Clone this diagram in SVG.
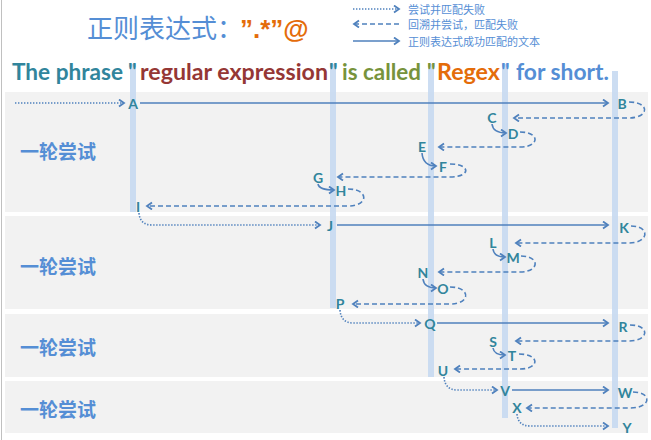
<svg xmlns="http://www.w3.org/2000/svg" width="651" height="440" viewBox="0 0 651 440">
<defs>
<style>
.panel{fill:#f2f2f2}
.bar{fill:#c6d9f1;opacity:0.9}
.c{fill:none;stroke:#4f81bd;stroke-width:1.6}
.dot{stroke-dasharray:1.4 1.6}
.dash{stroke-dasharray:5 3}
.lbl{font-family:Lato,"Liberation Sans",sans-serif;font-weight:bold;font-size:14px;fill:#31859c;text-anchor:middle;dominant-baseline:central}
.round{font-family:"Noto Sans CJK SC",sans-serif;font-weight:bold;font-size:19px;fill:#558ed5}
.leg{font-family:"Noto Sans CJK SC",sans-serif;font-size:11px;fill:#558ed5;dominant-baseline:central}
.sent{font-family:Lato,"Liberation Sans",sans-serif;font-weight:bold;font-size:22px}
</style>
<marker id="ah" markerWidth="10" markerHeight="10" refX="6" refY="4" orient="auto" markerUnits="userSpaceOnUse">
<path d="M1,0.5 L6,4 L1,7.5" fill="none" stroke="#4f81bd" stroke-width="1.8" stroke-dasharray="none"/>
</marker>
</defs>
<rect width="651" height="440" fill="#ffffff"/>
<line x1="1.5" y1="0" x2="1.5" y2="440" stroke="#c0c0c0" stroke-width="1"/>

<g id="title">
<text x="87" y="38" font-family="'Noto Sans CJK SC',sans-serif" font-size="26" fill="#558ed5">正则表达式：</text>
<text x="240" y="38" font-family="'Liberation Sans',sans-serif" font-weight="bold" font-size="26" fill="#e46c0a">”.*”@</text>
</g>

<g id="legend">
<line class="c dot" x1="353" y1="9" x2="399" y2="9" marker-end="url(#ah)"/>
<text class="leg" x="408" y="9">尝试并匹配失败</text>
<line class="c dash" x1="399" y1="24" x2="354" y2="24" marker-end="url(#ah)"/>
<text class="leg" x="408" y="24">回溯并尝试，匹配失败</text>
<line class="c" x1="353" y1="41" x2="399" y2="41" marker-end="url(#ah)"/>
<text class="leg" x="408" y="41">正则表达式成功匹配的文本</text>
</g>

<g id="panels">
<rect class="panel" x="5" y="92" width="643" height="120"/>
<rect class="panel" x="5" y="216" width="643" height="93"/>
<rect class="panel" x="5" y="314" width="643" height="63"/>
<rect class="panel" x="5" y="381" width="643" height="52"/>
<text class="round" x="20" y="159">一轮尝试</text>
<text class="round" x="20" y="274">一轮尝试</text>
<text class="round" x="20" y="355">一轮尝试</text>
<text class="round" x="20" y="417">一轮尝试</text>
</g>

<g id="bars">
<rect class="bar" x="130" y="64" width="6" height="148"/>
<rect class="bar" x="330" y="64" width="6" height="244"/>
<rect class="bar" x="428" y="64" width="6" height="313"/>
<rect class="bar" x="502" y="64" width="6" height="354"/>
<rect class="bar" x="612" y="71" width="6" height="357"/>
</g>

<g id="sentence" class="sent">
<text x="12" y="80" fill="#31859c" textLength="111" lengthAdjust="spacingAndGlyphs">The phrase</text>
<text x="128" y="80" fill="#31859c">"</text>
<text x="140" y="80" fill="#953735" textLength="188" lengthAdjust="spacingAndGlyphs">regular expression</text>
<text x="329" y="80" fill="#31859c">"</text>
<text x="342" y="80" fill="#77933c" textLength="79" lengthAdjust="spacingAndGlyphs">is called</text>
<text x="427" y="80" fill="#77933c">"</text>
<text x="437" y="80" fill="#e46c0a" textLength="63" lengthAdjust="spacingAndGlyphs">Regex</text>
<text x="501" y="80" fill="#558ed5">"</text>
<text x="516" y="80" fill="#558ed5" textLength="93" lengthAdjust="spacingAndGlyphs">for short.</text>
</g>

<g id="connectors">
<!-- panel 1 -->
<line class="c dot" x1="15" y1="103" x2="124" y2="103" marker-end="url(#ah)"/>
<line class="c" x1="140" y1="103" x2="608" y2="103" marker-end="url(#ah)"/>
<path class="c dash" d="M629,102 C650,102 650,118 628,118 L514,118" marker-end="url(#ah)"/>
<path class="c" d="M492,124 Q493,133 506,133" marker-end="url(#ah)"/>
<path class="c dash" d="M520,132 C540,132 540,147 520,147 L439,147" marker-end="url(#ah)"/>
<path class="c" d="M422,153 Q423,166 436,166" marker-end="url(#ah)"/>
<path class="c dash" d="M450,164 C471,164 471,177 450,177 L338,177" marker-end="url(#ah)"/>
<path class="c" d="M318,184 Q319,190 334,190" marker-end="url(#ah)"/>
<path class="c dash" d="M348,189 C369,189 369,206 348,206 L147,206" marker-end="url(#ah)"/>
<!-- panel 2 -->
<path class="c dot" d="M139,213 Q140,225 152,225 L320,225" marker-end="url(#ah)"/>
<line class="c" x1="337" y1="225" x2="608" y2="225" marker-end="url(#ah)"/>
<path class="c dash" d="M631,226 C650,226 650,243 628,243 L516,243" marker-end="url(#ah)"/>
<path class="c" d="M493,249 Q494,257 505,257" marker-end="url(#ah)"/>
<path class="c dash" d="M521,256 C540,256 540,272 520,272 L439,272" marker-end="url(#ah)"/>
<path class="c" d="M423,279 Q424,288 436,288" marker-end="url(#ah)"/>
<path class="c dash" d="M450,287 C471,287 471,304 450,304 L353,304" marker-end="url(#ah)"/>
<!-- panel 3 -->
<path class="c dot" d="M340,310 Q341,323 353,323 L420,323" marker-end="url(#ah)"/>
<line class="c" x1="437" y1="323" x2="608" y2="323" marker-end="url(#ah)"/>
<path class="c dash" d="M630,325 C650,325 650,341 628,341 L516,341" marker-end="url(#ah)"/>
<path class="c" d="M493,348 Q494,355 505,355" marker-end="url(#ah)"/>
<path class="c dash" d="M519,354 C540,354 540,369 520,369 L455,369" marker-end="url(#ah)"/>
<!-- panel 4 -->
<path class="c dot" d="M444,377 Q445,390 457,390 L497,390" marker-end="url(#ah)"/>
<line class="c" x1="512" y1="390" x2="608" y2="390" marker-end="url(#ah)"/>
<path class="c dash" d="M633,392 C652,392 652,408 630,408 L527,408" marker-end="url(#ah)"/>
<path class="c dot" d="M517,414 Q518,426 530,426 L608,426" marker-end="url(#ah)"/>
</g>

<g id="nodes">
<g id="nA"><text class="lbl" x="133" y="103">A</text></g>
<g id="nB"><text class="lbl" x="622" y="103">B</text></g>
<g id="nC"><text class="lbl" x="492" y="117">C</text></g>
<g id="nD"><text class="lbl" x="513" y="133">D</text></g>
<g id="nE"><text class="lbl" x="422" y="146">E</text></g>
<g id="nF"><text class="lbl" x="443" y="166">F</text></g>
<g id="nG"><text class="lbl" x="318" y="177">G</text></g>
<g id="nH"><text class="lbl" x="341" y="190">H</text></g>
<g id="nI"><text class="lbl" x="138" y="206">I</text></g>
<g id="nJ"><text class="lbl" x="330" y="225">J</text></g>
<g id="nK"><text class="lbl" x="624" y="227">K</text></g>
<g id="nL"><text class="lbl" x="493" y="242">L</text></g>
<g id="nM"><text class="lbl" x="513" y="257">M</text></g>
<g id="nN"><text class="lbl" x="423" y="272">N</text></g>
<g id="nO"><text class="lbl" x="443" y="288">O</text></g>
<g id="nP"><text class="lbl" x="340" y="303">P</text></g>
<g id="nQ"><text class="lbl" x="430" y="323">Q</text></g>
<g id="nR"><text class="lbl" x="623" y="326">R</text></g>
<g id="nS"><text class="lbl" x="493" y="341">S</text></g>
<g id="nT"><text class="lbl" x="512" y="355">T</text></g>
<g id="nU"><text class="lbl" x="443" y="370">U</text></g>
<g id="nV"><text class="lbl" x="505" y="390">V</text></g>
<g id="nW"><text class="lbl" x="625" y="392">W</text></g>
<g id="nX"><text class="lbl" x="517" y="407">X</text></g>
<g id="nY"><text class="lbl" x="627" y="427">Y</text></g>
</g>
</svg>
